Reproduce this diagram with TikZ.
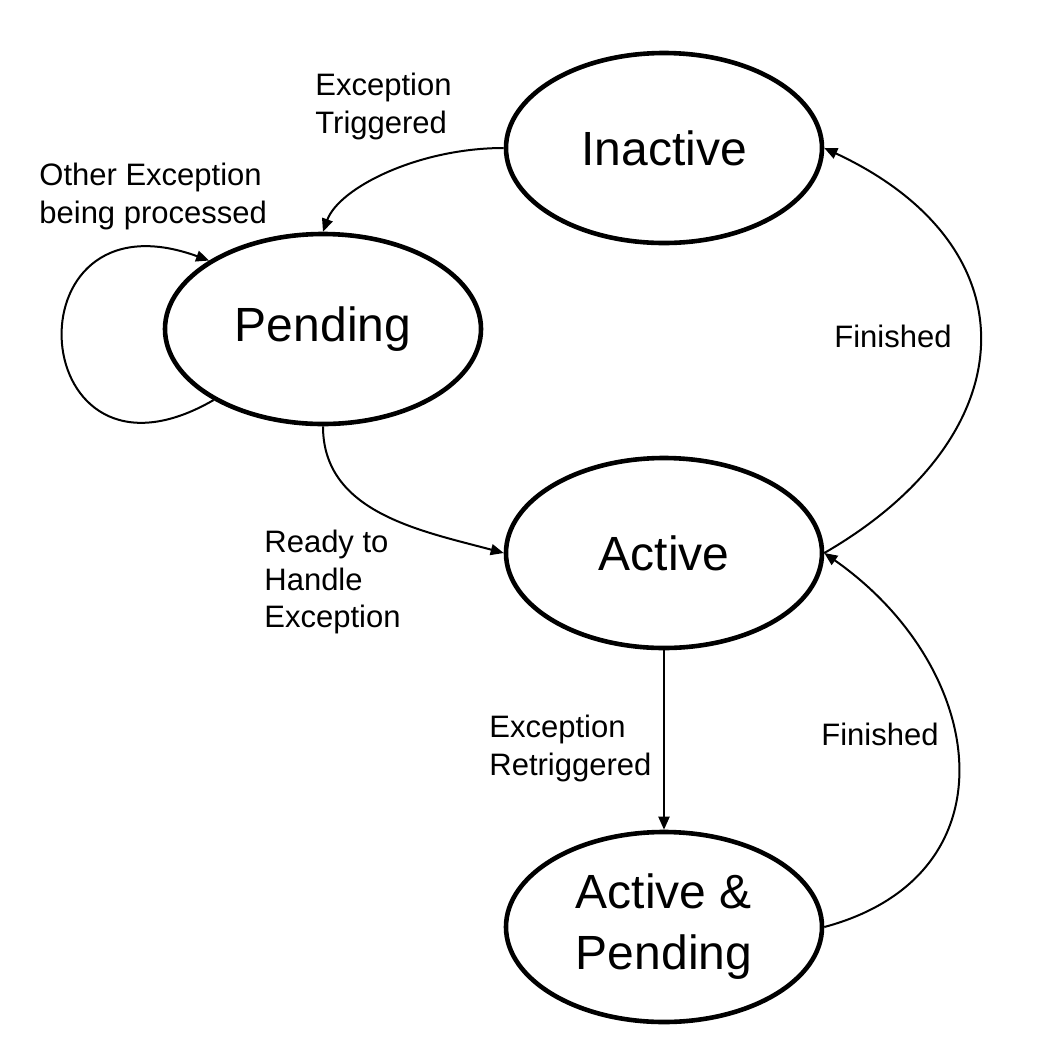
\documentclass[tikz,border=0pt]{standalone}
\usepackage{fontspec}
\setmainfont{Liberation Sans}
\usetikzlibrary{positioning}
\usetikzlibrary{shapes, arrows.meta}

\begin{document}
\begin{tikzpicture}[x=0.5pt, y=0.5pt, node distance = 187pt, auto]
    \tikzstyle{state} = [ellipse, draw, line width=2.3pt, minimum width=158pt,
    minimum height=95pt, inner sep=0pt, align=center, font=\fontsize{24}{30.5}\selectfont]
    \tikzstyle{line} = [draw, line width=1pt, -{Triangle[length=6.5pt, width=5.5pt]}]
    \tikzstyle{edgetext} = [anchor=north west, inner sep=0pt, align=left,
    font=\fontsize{15.5}{18.75}\selectfont]
    \useasboundingbox (0,0) rectangle (1062,-1046);
    \node [state] (inactive) at (664,-148) {Inactive};
    \node [state] (pending) at (323,-329) {Pending};
    \node [state, below of=inactive, node distance = 202.5pt] (active) {Active};
    \node [state, below of=active] (actpend) {Active \&\\Pending};
    \node [edgetext] (lbltrig) at (315,-73) {Exception\\Triggered};
    \node [edgetext] (lblother) at (39,-163) {Other Exception\\being processed};
    \node [edgetext] (lblready) at (264,-530) {Ready to\\Handle\\Exception};
    \node [edgetext] (lblretrig) at (489,-715) {Exception\\Retriggered};
    \node [edgetext] (lblfin) at (834,-325) {Finished};
    \node [edgetext] (lblfintwo) at (821,-723) {Finished};
    \path [line] (inactive.west) to[out=180, in=70, out looseness=1.1, in looseness=0.6] (pending.north);
    \path [line] (pending.213) to[out=210, in=160, looseness=4] (pending.149);
    \path [line] (pending.south) to[out=-90, in=165] (active.west);
    \path [line] (active.south) -- (actpend.north);
    \path [line] (active.east) to[out=30, in=-25, looseness=1.48] (inactive.east);
    \path [line] (actpend.east) to[out=15, in=-35, looseness=1.37] (active.east);
\end{tikzpicture}
\end{document}
